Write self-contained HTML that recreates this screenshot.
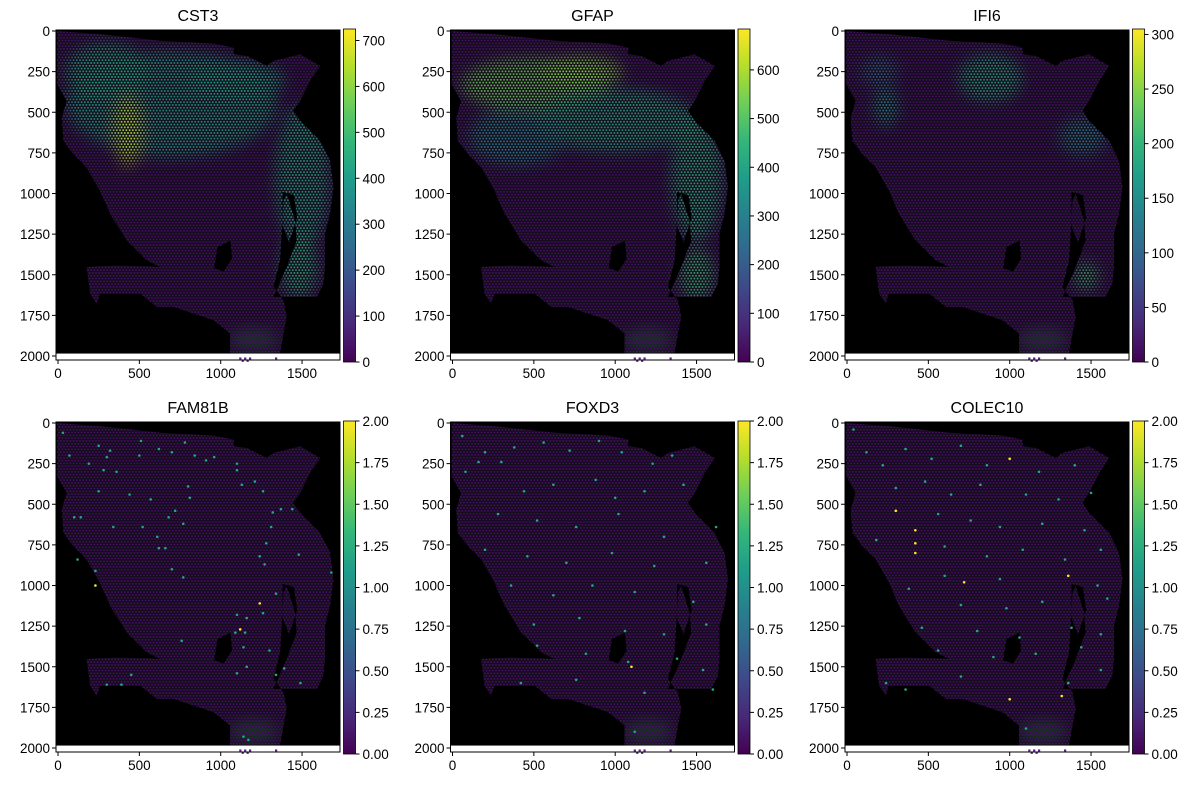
<!DOCTYPE html>
<html><head><meta charset="utf-8">
<style>
body{margin:0;background:#fff;width:1195px;height:786px;overflow:hidden;font-family:"Liberation Sans",sans-serif}
svg{position:absolute;left:0;top:0}
text{font-family:"Liberation Sans",sans-serif;fill:#000}
</style></head>
<body>
<svg id="fig" width="1195" height="786"></svg>
<script>
// ---- data ----
const genes = ["CST3","GFAP","IFI6","FAM81B","FOXD3","COLEC10"];
const cbarMax = [725, 684, 305, 2, 2, 2];
const cbarTicks = [[0,100,200,300,400,500,600,700],[0,100,200,300,400,500,600],[0,50,100,150,200,250,300],
 [0,0.25,0.5,0.75,1,1.25,1.5,1.75,2],[0,0.25,0.5,0.75,1,1.25,1.5,1.75,2],[0,0.25,0.5,0.75,1,1.25,1.5,1.75,2]];
const cbarLabels = [null,null,null,["0.00","0.25","0.50","0.75","1.00","1.25","1.50","1.75","2.00"],
 ["0.00","0.25","0.50","0.75","1.00","1.25","1.50","1.75","2.00"],["0.00","0.25","0.50","0.75","1.00","1.25","1.50","1.75","2.00"]];
const xTicks = [0,500,1000,1500];
const yTicks = [0,250,500,750,1000,1250,1500,1750,2000];
// expression hotspots: [x, y, rx, ry, value] per gene
const hotCST3 = [[700,450,650,330,400],[430,620,85,220,660],[1500,900,170,450,420],[1480,1450,120,200,450],[300,250,260,180,420],[1100,300,300,120,400]];
const hotGFAP = [[500,330,450,170,530],[800,250,250,100,560],[1000,550,500,200,400],[1500,900,160,400,420],[1500,1500,110,170,460],[400,650,300,180,310]];
const hotIFI6 = [[880,290,200,150,180],[240,470,80,120,160],[1450,650,150,120,140],[1470,1510,80,90,210],[200,250,120,100,100]];
// bottom-row sparse spots: [x, y, value]
const spotsFAM81B = [[30,60,1],[70,200,1],[250,140,1],[300,210,1],[320,170,1],[190,250,1],[280,290,1],[360,300,1],[250,420,1],[440,440,1],[500,200,1],[510,110,1],[570,470,1],[620,160,1],[700,180,1],[720,540,1],[680,580,1],[770,620,1],[780,120,1],[800,390,1],[810,460,1],[840,200,1],[910,230,1],[960,210,1],[1100,250,1],[1100,290,1],[1130,380,1],[1210,360,1],[1260,420,1],[1320,550,1],[1370,530,1],[1440,530,1],[1310,640,1],[1280,740,1],[1240,820,1],[1270,870,1],[1480,810,1],[1680,920,1],[100,580,1],[140,580,1],[340,640,1],[520,640,1],[610,700,1],[620,770,1],[660,770,1],[700,900,1],[770,950,1],[120,840,1],[230,910,1],[230,1000,2],[1340,1050,1],[1240,1110,2],[1260,1170,1],[1100,1180,1],[1160,1200,1],[1120,1270,2],[1090,1290,1],[1150,1290,1],[1140,1380,1],[1300,1400,1],[1390,1510,1],[1340,1550,1],[1490,1600,1],[1100,1540,1],[1160,1500,1],[760,1340,1],[450,1550,1],[300,1610,1],[390,1610,1],[1140,1930,1],[1170,1950,1]];
const spotsFOXD3 = [[60,80,1],[80,300,1],[160,240,1],[200,180,1],[300,240,1],[380,150,1],[560,120,1],[720,170,1],[900,110,1],[1040,180,1],[1230,250,1],[1350,200,1],[440,420,1],[620,380,1],[880,350,1],[1000,460,1],[1180,420,1],[1420,380,1],[280,560,1],[520,600,1],[760,640,1],[1020,560,1],[1300,700,1],[1620,640,1],[200,780,1],[460,820,1],[700,860,1],[980,800,1],[1240,880,1],[1560,860,1],[360,1000,1],[620,1060,1],[860,1000,1],[1120,1040,1],[1480,1100,1],[500,1240,1],[780,1200,1],[1060,1280,1],[1300,1300,1],[1560,1240,1],[520,1370,1],[820,1420,1],[1080,1470,1],[1100,1500,2],[1380,1450,1],[1540,1520,1],[420,1600,1],[760,1580,1],[1180,1660,1],[1600,1640,1],[1120,1900,1]];
const spotsCOLEC10 = [[40,40,1],[120,180,1],[220,260,1],[360,160,1],[520,220,1],[700,140,1],[860,260,1],[1000,220,2],[1180,300,1],[1400,260,1],[300,400,1],[480,360,1],[640,440,1],[820,380,1],[1100,440,1],[1300,470,1],[1500,430,1],[300,540,2],[420,660,2],[420,740,2],[420,800,2],[560,560,1],[760,600,1],[940,640,1],[1200,620,1],[1460,660,1],[1560,780,1],[180,720,1],[600,760,1],[860,820,1],[1080,780,1],[1340,840,1],[720,980,2],[600,940,1],[940,960,1],[1360,940,2],[1540,1000,1],[1600,1080,1],[380,1020,1],[700,1120,1],[980,1140,1],[1200,1100,1],[460,1260,1],[800,1280,1],[1060,1320,1],[1380,1260,1],[1560,1300,1],[560,1400,1],[900,1440,1],[1160,1420,1],[1440,1380,1],[1560,1520,1],[240,1600,1],[360,1640,1],[700,1560,1],[1000,1700,2],[1320,1680,2],[1360,1600,1],[1100,1880,1]];
const spots = [null,null,null,spotsFAM81B,spotsFOXD3,spotsCOLEC10];
const hots = [hotCST3,hotGFAP,hotIFI6,null,null,null];
// tissue outline (data coordinates) – image background
const outline = [[-5,0],[260,20],[360,30],[630,60],[960,78],[1080,102],[1080,143],[1160,153],[1283,215],[1324,184],[1488,143],[1611,215],[1550,307],[1488,430],[1447,491],[1488,552],[1611,675],[1672,798],[1693,961],[1672,1125],[1641,1248],[1641,1452],[1631,1555],[1590,1637],[1324,1637],[1406,1452],[1467,1289],[1457,1166],[1406,1002],[1386,1043],[1375,1248],[1365,1411],[1324,1575],[1386,1657],[1406,1759],[1386,1861],[1365,1984],[1057,1984],[1057,1861],[955,1779],[709,1698],[607,1698],[504,1616],[258,1616],[238,1677],[197,1616],[176,1452],[361,1442],[627,1452],[545,1411],[422,1289],[320,1125],[258,982],[176,839],[94,757],[33,675],[23,532],[53,430],[-5,327]];
const holes = [[[980,1330],[1060,1290],[1070,1400],[1020,1480],[960,1460]],[[1380,990],[1450,1010],[1470,1150],[1420,1300],[1380,1200]]];

const viridis = ["#440154","#482878","#3e4989","#31688e","#26828e","#1f9e89","#35b779","#6ece58","#b5de2b","#fde725"];
function vcol(t){t=Math.max(0,Math.min(1,t));const p=t*(viridis.length-1),i=Math.floor(p),f=p-i;
 const a=viridis[i],b=viridis[Math.min(i+1,viridis.length-1)];
 const h=(s,k)=>parseInt(s.substr(k,2),16);
 const c=[1,3,5].map(k=>Math.round(h(a,k)+(h(b,k)-h(a,k))*f));return `rgb(${c.join(',')})`;}

const NS="http://www.w3.org/2000/svg";
const fig=document.getElementById('fig');
function mk(tag,attrs,parent){const e=document.createElementNS(NS,tag);for(const k in attrs)e.setAttribute(k,attrs[k]);(parent||fig).appendChild(e);return e;}
const defs=mk('defs',{});
const grad=mk('linearGradient',{id:'vir',x1:0,y1:1,x2:0,y2:0},defs);
viridis.forEach((c,i)=>mk('stop',{offset:i/(viridis.length-1),'stop-color':c},grad));
const pat=mk('pattern',{id:'hex',width:3.2,height:5.6,patternUnits:'userSpaceOnUse'},defs);
mk('circle',{cx:1.6,cy:1.4,r:1.0,fill:'#fff'},pat);
mk('circle',{cx:0,cy:4.2,r:1.0,fill:'#fff'},pat);
mk('circle',{cx:3.2,cy:4.2,r:1.0,fill:'#fff'},pat);
const msk=mk('mask',{id:'dots',maskUnits:'userSpaceOnUse',x:0,y:0,width:1195,height:786},defs);
mk('rect',{x:0,y:0,width:1195,height:786,fill:'url(#hex)'},msk);
const blur=mk('filter',{id:'bl',x:'-50%',y:'-50%',width:'200%',height:'200%'},defs);
mk('feGaussianBlur',{stdDeviation:7},blur);

for(let p=0;p<6;p++){
 const c=p%3,r=Math.floor(p/3);
 const L=56+394.5*c, T=30+392*r, W=284, H=330;
 const sx=x=>L+2+x*0.1627, sy=y=>T+1+y*0.1625;
 const g=mk('g',{});
 
 
 const t=mk('text',{x:L+W/2,y:T-9,'text-anchor':'middle','font-size':16},g);t.textContent=genes[p];
 
 const bg=mk('rect',{x:L,y:T,width:W,height:sy(1985)-T,fill:'#000'},g);
 
 const cid='clip'+p;
 const cp=mk('clipPath',{id:cid},defs);
 let d='M'+outline.map(q=>sx(q[0])+','+sy(q[1])).join('L')+'Z';
 holes.forEach(h=>{d+='M'+h.map(q=>sx(q[0])+','+sy(q[1])).join('L')+'Z';});
 mk('path',{d:d,'clip-rule':'evenodd'},cp);
 const tg=mk('g',{'clip-path':`url(#${cid})`},g);
 
 mk('rect',{x:L,y:T,width:W,height:H,fill:'#120c16'},tg);
 mk('ellipse',{cx:sx(1200),cy:sy(1900),rx:25,ry:12,fill:'#1f4a2a',opacity:0.6,filter:'url(#bl)'},tg);
 const dg=mk('g',{mask:'url(#dots)'},tg);
 mk('rect',{x:L,y:T,width:W,height:H,fill:'#440f66'},dg);
 if(hots[p]){const hg=mk('g',{filter:'url(#bl)'},dg);
  hots[p].forEach(h=>{const e=mk('ellipse',{cx:sx(h[0]),cy:sy(h[1]),rx:h[2]*0.1627,ry:h[3]*0.1625,fill:vcol(h[4]/cbarMax[p]),opacity:0.8},hg);
   });}
 // small spots below image
 [[1120,2015],[1150,2015],[1180,2015],[1135,2030],[1165,2030],[1340,2015]].forEach(q=>mk('rect',{x:sx(q[0])-1,y:sy(q[1])-1,width:2.2,height:2,fill:'#5a1f86'},g));
 if(spots[p]){spots[p].forEach(s=>{const e=mk('circle',{cx:sx(s[0]),cy:sy(s[1]),r:1.3,fill:vcol(s[2]/cbarMax[p])},g);
  if(s[2]<2) e.setAttribute('fill','#22a884');
  });}
 // axes frame
 const fr=mk('rect',{x:L,y:T,width:W,height:H,fill:'none',stroke:'#000','stroke-width':1},g);
 
 xTicks.forEach(v=>{mk('line',{x1:sx(v),x2:sx(v),y1:T+H,y2:T+H+4,stroke:'#000'},g);
  const tx=mk('text',{x:sx(v),y:T+H+18,'text-anchor':'middle','font-size':13.5},g);tx.textContent=v;
  });
 yTicks.forEach(v=>{mk('line',{x1:L-4,x2:L,y1:sy(v),y2:sy(v),stroke:'#000'},g);
  const ty=mk('text',{x:L-6,y:sy(v)+5,'text-anchor':'end','font-size':13.5},g);ty.textContent=v;
  });
 // colorbar
 const CX=L+287.5, CT=T-1, CH=H+3, CW=12;
 const cb=mk('rect',{x:CX,y:CT,width:CW,height:CH,fill:'url(#vir)',stroke:'#000','stroke-width':0.8},g);
 
 const cy=v=>CT+CH-v/cbarMax[p]*CH;
 cbarTicks[p].forEach((v,i)=>{mk('line',{x1:CX+CW,x2:CX+CW+4,y1:cy(v),y2:cy(v),stroke:'#000'},g);
  const tl=mk('text',{x:CX+CW+7,y:cy(v)+5,'font-size':13.5},g);tl.textContent=cbarLabels[p]?cbarLabels[p][i]:v;
  });
}
</script>
</body></html>
